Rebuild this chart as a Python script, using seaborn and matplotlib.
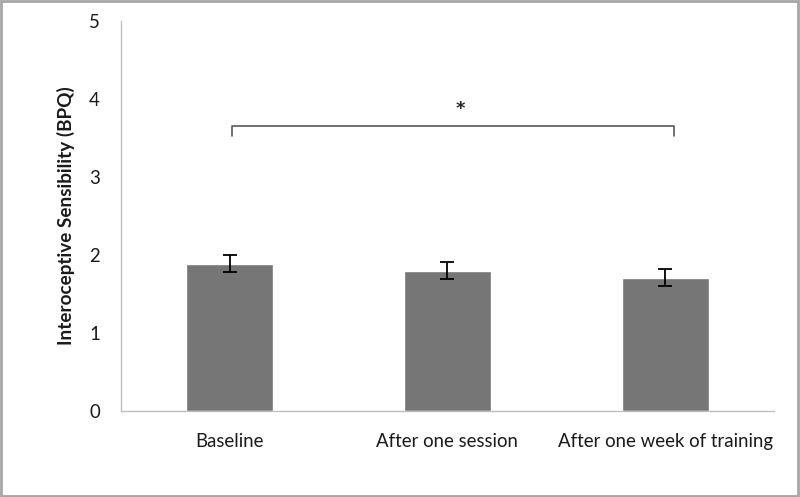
import matplotlib
matplotlib.use('Agg')
import matplotlib.pyplot as plt
import seaborn as sns
from matplotlib.patches import Rectangle

# data
conditions = ['Baseline', 'After one session', 'After one week of training']
means = [1.89, 1.80, 1.71]
sem = [0.11, 0.11, 0.11]
y_ticks = [0, 1, 2, 3, 4, 5]
sig_label = '*'

sns.set_style('white')
plt.rcParams['font.family'] = ['Lato', 'DejaVu Sans']

fig = plt.figure(figsize=(8, 4.97), dpi=100)
ax = fig.add_axes([0.151, 0.173, 0.8165, 0.785])

bar_color = '#767676'
axis_color = '#bfbfbf'

sns.barplot(x=conditions, y=means, color=bar_color, saturation=1,
            width=0.4, errorbar=None, ax=ax)
ax.errorbar(range(len(means)), means, yerr=sem, fmt='none',
            ecolor='black', elinewidth=1.3, capsize=5, capthick=1.3)

# significance bracket
y_br, y_tip = 3.65, 3.52
ax.plot([0.01, 0.01, 2.04, 2.04], [y_tip, y_br, y_br, y_tip],
        color='#595959', lw=1.2)
ax.text(1.06, 3.87, sig_label, ha='center', va='center',
        fontsize=13, fontweight='bold', family=['DejaVu Sans'],
        color='#262626')

ax.set_xlim(-0.5, 2.5)
ax.set_ylim(0, 5)
ax.set_yticks(y_ticks)
ax.set_xticks(range(len(conditions)))
ax.set_xticklabels(conditions)
ax.set_xticks([-0.5, 0.5, 1.5, 2.5], minor=True)

ax.tick_params(axis='x', which='major', length=0, pad=16,
               labelsize=13.4, labelcolor='#1a1a1a')
ax.tick_params(axis='x', which='minor', length=5, width=1,
               color=axis_color, direction='out')
ax.tick_params(axis='y', length=5, width=1, color=axis_color,
               direction='out', pad=10, labelsize=13.4, labelcolor='#1a1a1a')

ax.set_ylabel('Interoceptive Sensibility (BPQ)', fontsize=13.6,
              fontweight='bold', color='#1a1a1a')
ax.yaxis.set_label_coords(-0.07, 0.5)
ax.set_xlabel('')

sns.despine(ax=ax)
for s in ['left', 'bottom']:
    ax.spines[s].set_color(axis_color)
    ax.spines[s].set_linewidth(1)

# grey frame round the figure
fig.patches.append(Rectangle((0.001, 0.002), 0.997, 0.995,
                             transform=fig.transFigure, fill=False,
                             edgecolor='#a6a6a6', lw=2))

fig.savefig('out.png', dpi=100)
